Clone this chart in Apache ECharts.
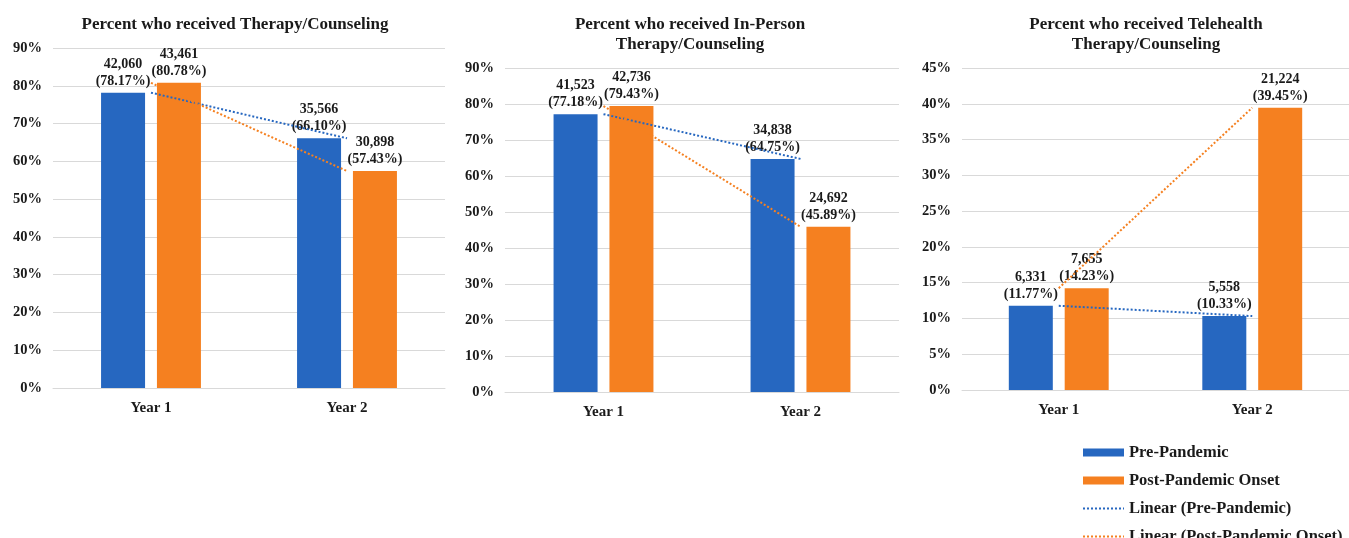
<!DOCTYPE html>
<html>
<head>
<meta charset="utf-8">
<script src="https://cdn.jsdelivr.net/npm/echarts@6/dist/echarts.min.js"></script>
<style>
html,body{margin:0;padding:0;background:#fff;}
#c{width:1349px;height:538px;}
</style>
</head>
<body>
<div id="c"></div>
<script>
const categories = ['Year 1', 'Year 2'];
const titles = [
  'Percent who received Therapy/Counseling',
  'Percent who received In-Person\nTherapy/Counseling',
  'Percent who received Telehealth\nTherapy/Counseling'
];
// chart 1: Therapy/Counseling
const prePct1 = [78.17, 66.10];
const postPct1 = [80.78, 57.43];
const preN1 = ['42,060', '35,566'];
const postN1 = ['43,461', '30,898'];
// chart 2: In-Person
const prePct2 = [77.18, 64.75];
const postPct2 = [79.43, 45.89];
const preN2 = ['41,523', '34,838'];
const postN2 = ['42,736', '24,692'];
// chart 3: Telehealth
const prePct3 = [11.77, 10.33];
const postPct3 = [14.23, 39.45];
const preN3 = ['6,331', '5,558'];
const postN3 = ['7,655', '21,224'];
// axes
const yMax = [90, 90, 45];
const yStep = [10, 10, 5];
const legendNames = ['Pre-Pandemic', 'Post-Pandemic Onset', 'Linear (Pre-Pandemic)', 'Linear (Post-Pandemic Onset)'];

const BLUE = '#2667c0';
const ORANGE = '#f58020';
const FONT = "'Liberation Serif', 'Times New Roman', serif";
const TXT = '#1a1a1a';

const grids = [
  {left: 53, top: 48, width: 392, height: 340},
  {left: 505, top: 68, width: 394, height: 324},
  {left: 962, top: 68, width: 392, height: 322}
];
const titlePos = [{left: 230, top: 10}, {left: 685, top: 10}, {left: 1141, top: 10}];

const pre = [prePct1, prePct2, prePct3];
const post = [postPct1, postPct2, postPct3];
const preN = [preN1, preN2, preN3];
const postN = [postN1, postN2, postN3];

const option = {
  animation: false,
  backgroundColor: '#fff',
  textStyle: {fontFamily: FONT},
  title: titles.map((t, i) => ({
    text: t,
    left: titlePos[i].left,
    top: titlePos[i].top,
    textAlign: 'center',
    textStyle: {fontFamily: FONT, fontWeight: 'bold', fontSize: 17, color: TXT, lineHeight: 20}
  })),
  grid: grids.map(g => Object.assign({containLabel: false}, g)),
  xAxis: grids.map((g, i) => ({
    type: 'category',
    gridIndex: i,
    data: categories,
    axisTick: {show: false},
    axisLine: {lineStyle: {color: '#d9d9d9', width: 1}},
    axisLabel: {fontFamily: FONT, fontWeight: 'bold', fontSize: 15, color: TXT, margin: 13}
  })),
  yAxis: grids.map((g, i) => ({
    type: 'value',
    gridIndex: i,
    min: 0,
    max: yMax[i],
    interval: yStep[i],
    axisLine: {show: false},
    axisTick: {show: false},
    splitLine: {lineStyle: {color: '#d9d9d9', width: 1}},
    axisLabel: {fontFamily: FONT, fontWeight: 'bold', fontSize: 14.5, color: TXT, margin: 11, formatter: v => v + '%'}
  })),
  legend: {
    orient: 'vertical',
    left: 1082,
    top: 444,
    height: 140,
    padding: 0,
    itemWidth: 41,
    itemHeight: 8,
    itemGap: 11,
    textStyle: {fontFamily: FONT, fontWeight: 'bold', fontSize: 16.5, color: TXT, padding: [0, 0, 0, 0]},
    data: legendNames.map((n, k) => k < 2 ? {name: n, icon: 'rect'} : {name: n, itemStyle: {opacity: 0}})
  },
  series: []
};

function lbl(counts) {
  return {
    show: true,
    position: 'top',
    distance: 3,
    fontFamily: FONT,
    fontWeight: 'bold',
    fontSize: 14,
    lineHeight: 17,
    color: TXT,
    formatter: p => counts[p.dataIndex] + '\n(' + p.value.toFixed(2) + '%)'
  };
}

for (let i = 0; i < 3; i++) {
  option.series.push({
    name: legendNames[0], type: 'bar', xAxisIndex: i, yAxisIndex: i,
    data: pre[i], barWidth: 44, barGap: '27%',
    itemStyle: {color: BLUE}, label: lbl(preN[i]), z: 2
  });
  option.series.push({
    name: legendNames[1], type: 'bar', xAxisIndex: i, yAxisIndex: i,
    data: post[i], barWidth: 44, barGap: '27%',
    itemStyle: {color: ORANGE}, label: lbl(postN[i]), z: 2
  });
  option.series.push({
    name: legendNames[2], type: 'line', xAxisIndex: i, yAxisIndex: i,
    data: pre[i], symbol: 'none', showSymbol: false,
    lineStyle: {color: BLUE, width: 2, type: 'dotted'}, itemStyle: {color: BLUE}, z: 5
  });
  option.series.push({
    name: legendNames[3], type: 'line', xAxisIndex: i, yAxisIndex: i,
    data: post[i], symbol: 'none', showSymbol: false,
    lineStyle: {color: ORANGE, width: 2, type: 'dotted'}, itemStyle: {color: ORANGE}, z: 5
  });
}

const chart = echarts.init(document.getElementById('c'), null, {renderer: 'canvas'});
chart.setOption(option);
</script>
</body>
</html>
